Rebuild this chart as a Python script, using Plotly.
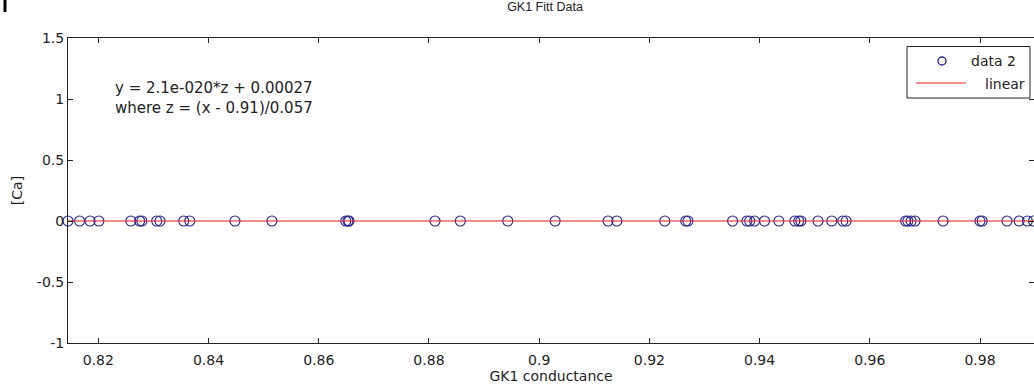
import plotly.graph_objects as go

# GK1 conductance values (x) and [Ca] values (y)
gk1 = [0.8145, 0.8166, 0.8185, 0.8201, 0.8259, 0.8275, 0.8279, 0.8306, 0.8312,
       0.8355, 0.8366, 0.8448, 0.8515, 0.8649, 0.8653, 0.8655, 0.8811, 0.8857,
       0.8943, 0.9029, 0.9125, 0.9141, 0.9228, 0.9266, 0.9270, 0.9351, 0.9377,
       0.9382, 0.9391, 0.9409, 0.9435, 0.9464, 0.9471, 0.9475, 0.9506, 0.9531,
       0.9551, 0.9557, 0.9665, 0.9669, 0.9675, 0.9682, 0.9733, 0.9800, 0.9804,
       0.9849, 0.9871, 0.9886, 0.9897]
ca = [0.0, 0.0, 0.0, 0.0, 0.0, 0.0, 0.0, 0.0, 0.0,
      0.0, 0.0, 0.0, 0.0, 0.0, 0.0, 0.0, 0.0, 0.0,
      0.0, 0.0, 0.0, 0.0, 0.0, 0.0, 0.0, 0.0, 0.0,
      0.0, 0.0, 0.0, 0.0, 0.0, 0.0, 0.0, 0.0, 0.0,
      0.0, 0.0, 0.0, 0.0, 0.0, 0.0, 0.0, 0.0, 0.0,
      0.0, 0.0, 0.0, 0.0]

fit_x = [0.8145, 0.9898]
fit_y = [0.00027, 0.00027]

x_ticks = [0.82, 0.84, 0.86, 0.88, 0.90, 0.92, 0.94, 0.96, 0.98]
x_tick_labels = ["0.82", "0.84", "0.86", "0.88", "0.9", "0.92", "0.94", "0.96", "0.98"]
y_ticks = [-1, -0.5, 0, 0.5, 1, 1.5]
y_tick_labels = ["-1", "-0.5", "0", "0.5", "1", "1.5"]

legend_names = ["data 2", "linear"]

font = "DejaVu Sans, Verdana, sans-serif"
ink = "#222222"
marker_color = "#23238f"
line_color = "#e0191e"

# plot area in pixels: left 68, right 1034, top 38, bottom 343
PL, PW, PT, PH = 68, 966, 38, 305


def px(xp):
    return (xp - PL) / PW


def py(yp):
    return (PT + PH - yp) / PH


fig = go.Figure()
fig.add_trace(go.Scatter(
    x=gk1, y=ca, mode="markers", name=legend_names[0],
    marker=dict(symbol="circle-open", size=10, color=marker_color, line=dict(width=1.1)),
    cliponaxis=False, showlegend=False,
))
fig.add_trace(go.Scatter(
    x=fit_x, y=fit_y, mode="lines", name=legend_names[1],
    line=dict(color=line_color, width=1), showlegend=False,
))

fig.update_layout(
    width=1034, height=385,
    margin=dict(l=PL, r=0, t=PT, b=385 - PT - PH),
    paper_bgcolor="white", plot_bgcolor="white",
    font=dict(family=font, size=14, color=ink),
    title=dict(text="GK1 Fitt Data", x=(545 - PL) / PW, xref="paper", xanchor="center",
               y=0.993, yanchor="top",
               font=dict(family="Liberation Sans, Arial, sans-serif", size=12.5, color=ink)),
    showlegend=False,
)
fig.update_xaxes(
    range=[0.8145, 0.9898], tickvals=x_ticks, ticktext=x_tick_labels,
    ticks="inside", ticklen=5, tickcolor=ink, showline=True,
    linecolor=ink, linewidth=1, mirror="ticks", showgrid=False,
    zeroline=False, ticklabelstandoff=4,
    title=dict(text="GK1 conductance", font=dict(size=14), standoff=2),
)
fig.update_yaxes(
    range=[-1, 1.5], tickvals=y_ticks, ticktext=y_tick_labels,
    ticks="inside", ticklen=5, tickcolor=ink, showline=True,
    linecolor=ink, linewidth=1, mirror="ticks", showgrid=False,
    zeroline=False,
    title=dict(text="[Ca]", font=dict(size=14), standoff=10),
)

fig.add_annotation(
    xref="paper", yref="paper", x=px(113), y=py(77),
    xanchor="left", yanchor="top", align="left", showarrow=False,
    text="y = 2.1e-020*z + 0.00027<br>where z = (x - 0.91)/0.057",
    font=dict(size=15, color=ink),
)

# legend box drawn by hand to match the original layout
fig.add_shape(type="rect", xref="paper", yref="paper",
              x0=px(907), x1=px(1030), y0=py(98), y1=py(46.5),
              line=dict(color=ink, width=1), fillcolor="white", layer="above")
fig.add_shape(type="circle", xref="paper", yref="paper",
              x0=px(938), x1=px(946), y0=py(65), y1=py(57),
              line=dict(color=marker_color, width=1.3), layer="above")
fig.add_shape(type="line", xref="paper", yref="paper",
              x0=px(916), x1=px(966), y0=py(83), y1=py(83),
              line=dict(color=line_color, width=1), layer="above")
fig.add_annotation(xref="paper", yref="paper", x=px(969), y=py(61),
                   xanchor="left", yanchor="middle", showarrow=False,
                   text=legend_names[0], font=dict(size=14, color=ink))
fig.add_annotation(xref="paper", yref="paper", x=px(983), y=py(84),
                   xanchor="left", yanchor="middle", showarrow=False,
                   text=legend_names[1], font=dict(size=14, color=ink))

# small artifact mark at top-left corner of the image
fig.add_shape(type="line", xref="paper", yref="paper",
              x0=px(5), x1=px(5), y0=py(0), y1=py(12),
              line=dict(color="black", width=3))

fig.write_html("out.html")
